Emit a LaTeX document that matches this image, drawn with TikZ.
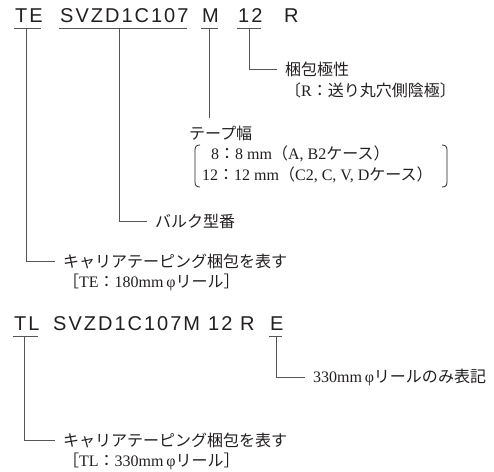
\documentclass[tikz,border=0pt]{standalone}
\usepackage{fontspec}
\setmainfont{Liberation Serif}
\newfontfamily\jpfont{Noto Sans CJK JP}
\newfontfamily\codefont[LetterSpace=10]{Liberation Sans}
\newcommand\J[1]{{\jpfont #1}}
\definecolor{txt}{HTML}{231F20}
\definecolor{ln}{HTML}{555555}
\begin{document}
\begin{tikzpicture}[x=1pt,y=-1pt,
  code/.style={font=\codefont\fontsize{20}{20}\selectfont, inner sep=0pt, anchor=base west, text=txt},
  lbl/.style={font=\fontsize{16}{18}\selectfont, inner xsep=8pt, inner ysep=0pt, anchor=west, text=txt},
  conn/.style={draw=ln, line width=1pt},
  uline/.style={draw=ln, line width=1pt},
  brk/.style={draw=txt, line width=0.8pt}]
\useasboundingbox (0,0) rectangle (494,471);

% ---- top code ----
\node[code] (te)   at (15,22)  {TE};
\node[code] (svzd) at (60,22)  {SVZD1C107};
\node[code] (m)    at (202,22) {M};
\node[code] (tw)   at (238,22) {12};
\node[code] (r)    at (284,22) {R};

\foreach \n in {te,svzd,m,tw}{
  \draw[uline] ([xshift=-1pt,yshift=-6pt]\n.base west) -- ([xshift=-1.5pt,yshift=-6pt]\n.base east);
}

% labels (top)
\node[lbl] (carA1) at (55,261) {\J{キャリアテーピング梱包を表す}};
\node[lbl] (carA2) at (55,282) {\J{［}TE\J{：}180mm\,φ\J{リール］}};
\node[lbl] (bulk)  at (147,221) {\J{バルク型番}};
\node[lbl, inner xsep=0pt, inner ysep=7pt] (tape) at (189,133) {\J{テープ幅}};
\node[lbl, inner xsep=0pt] (w8)  at (211,154) {8\J{：}8 mm\J{（}A, B2\J{ケース）}};
\node[lbl, inner xsep=0pt] (w12) at (202,175) {12\J{：}12 mm\J{（}C2, C, V, D\J{ケース）}};
\node[lbl] (pol1) at (277,69) {\J{梱包極性}};
\node[lbl] (pol2) at (277,90) {\J{〔}R\J{：送り丸穴側陰極〕}};

% connectors (top)
\draw[conn] ([xshift=-2.8pt,yshift=-6pt]te.base) |- (carA1.west);
\draw[conn] ([xshift=-5pt,yshift=-6pt]svzd.base) |- (bulk.west);
\draw[conn] ([xshift=-1.3pt,yshift=-6pt]m.base) -- ([xshift=-1.3pt]m.base |- tape.north);
\draw[conn] ([xshift=-1pt,yshift=-6pt]tw.base) |- (pol1.west);

% brackets
\draw[brk] (200,145) .. controls (196.5,145) and (195,146.5) .. (195,150) -- (195,182) .. controls (195,185.5) and (196.5,187) .. (200,187);
\draw[brk] (442,145) .. controls (445.5,145) and (447,146.5) .. (447,150) -- (447,182) .. controls (447,185.5) and (445.5,187) .. (442,187);

% ---- lower code ----
\node[code] (tl)    at (14,330)  {TL};
\node[code] (svzd2) at (53,330)  {SVZD1C107M};
\node[code] (tw2)   at (208,330) {12};
\node[code] (r2)    at (240,330) {R};
\node[code] (e)     at (270,330) {E};

\foreach \n in {tl,e}{
  \draw[uline] ([xshift=-1pt,yshift=-6pt]\n.base west) -- ([xshift=-1.5pt,yshift=-6pt]\n.base east);
}

\node[lbl] (carB1) at (55,440) {\J{キャリアテーピング梱包を表す}};
\node[lbl] (carB2) at (55,461) {\J{［}TL\J{：}330mm\,φ\J{リール］}};
\node[lbl] (only)  at (305,377) {330mm\,φ\J{リールのみ表記}};

\draw[conn] ([xshift=-2.7pt,yshift=-6pt]tl.base) |- (carB1.west);
\draw[conn] ([yshift=-6pt]e.base) |- (only.west);
\end{tikzpicture}
\end{document}
